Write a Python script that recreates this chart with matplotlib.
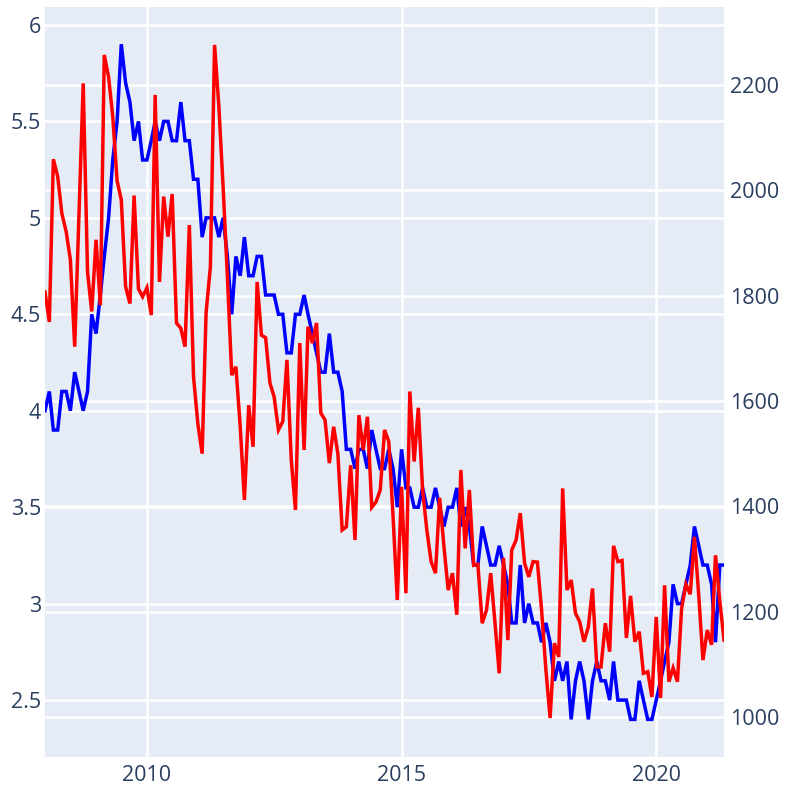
import matplotlib
matplotlib.use("Agg")
import matplotlib.pyplot as plt
import pandas as pd

# ---- data (monthly, Jan 2008 .. May 2021) ----
start_month = "2008-01-01"

blue_values = [
    4.0, 4.1, 3.9, 3.9, 4.1, 4.1, 4.0, 4.2, 4.1, 4.0, 4.1, 4.5,   # 2008
    4.4, 4.6, 4.8, 5.0, 5.3, 5.5, 5.9, 5.7, 5.6, 5.4, 5.5, 5.3,   # 2009
    5.3, 5.4, 5.5, 5.4, 5.5, 5.5, 5.4, 5.4, 5.6, 5.4, 5.4, 5.2,   # 2010
    5.2, 4.9, 5.0, 5.0, 5.0, 4.9, 5.0, 4.8, 4.5, 4.8, 4.7, 4.9,   # 2011
    4.7, 4.7, 4.8, 4.8, 4.6, 4.6, 4.6, 4.5, 4.5, 4.3, 4.3, 4.5,   # 2012
    4.5, 4.6, 4.5, 4.4, 4.3, 4.2, 4.2, 4.4, 4.2, 4.2, 4.1, 3.8,   # 2013
    3.8, 3.7, 3.8, 3.8, 3.7, 3.9, 3.8, 3.7, 3.7, 3.8, 3.7, 3.5,   # 2014
    3.8, 3.6, 3.6, 3.5, 3.5, 3.6, 3.5, 3.5, 3.6, 3.5, 3.4, 3.5,   # 2015
    3.5, 3.6, 3.4, 3.5, 3.4, 3.2, 3.2, 3.4, 3.3, 3.2, 3.2, 3.3,   # 2016
    3.2, 3.1, 2.9, 2.9, 3.2, 2.9, 3.0, 2.9, 2.9, 2.8, 2.9, 2.8,   # 2017
    2.6, 2.7, 2.6, 2.7, 2.4, 2.6, 2.7, 2.6, 2.4, 2.6, 2.7, 2.6,   # 2018
    2.6, 2.5, 2.7, 2.5, 2.5, 2.5, 2.4, 2.4, 2.6, 2.5, 2.4, 2.4,   # 2019
    2.5, 2.6, 2.7, 2.8, 3.1, 3.0, 3.0, 3.1, 3.2, 3.4, 3.3, 3.2,   # 2020
    3.2, 3.1, 2.8, 3.2, 3.2,                                      # 2021
]

red_values = [
    1807, 1750, 2059, 2026, 1956, 1921, 1868, 1703, 1960, 2203, 1845, 1770,   # 2008
    1906, 1782, 2257, 2215, 2140, 2018, 1982, 1817, 1785, 1990, 1813, 1798,   # 2009
    1815, 1763, 2181, 1826, 1988, 1912, 1993, 1748, 1738, 1703, 1934, 1646,   # 2010
    1557, 1500, 1767, 1855, 2276, 2158, 2007, 1836, 1649, 1665, 1551, 1412,   # 2011
    1592, 1513, 1826, 1725, 1720, 1634, 1608, 1545, 1561, 1678, 1488, 1393,   # 2012
    1710, 1507, 1741, 1710, 1748, 1577, 1564, 1482, 1551, 1500, 1355, 1361,   # 2013
    1478, 1336, 1573, 1507, 1570, 1398, 1408, 1431, 1545, 1523, 1380, 1222,   # 2014
    1437, 1235, 1618, 1485, 1587, 1430, 1355, 1295, 1273, 1416, 1323, 1241,   # 2015
    1273, 1194, 1469, 1320, 1431, 1288, 1290, 1178, 1203, 1273, 1178, 1083,   # 2016
    1302, 1146, 1317, 1336, 1387, 1292, 1266, 1295, 1294, 1203, 1089, 998,    # 2017
    1140, 1114, 1434, 1241, 1260, 1197, 1181, 1143, 1171, 1244, 1095, 1095,   # 2018
    1178, 1124, 1325, 1295, 1297, 1150, 1230, 1143, 1162, 1083, 1086, 1038,   # 2019
    1190, 1036, 1250, 1067, 1093, 1067, 1206, 1252, 1233, 1342, 1230, 1108,   # 2020
    1165, 1137, 1307, 1220, 1146,                                             # 2021
]

x_tick_years = ["2010", "2015", "2020"]
left_ticks = [2.5, 3, 3.5, 4, 4.5, 5, 5.5, 6]
left_tick_labels = ["2.5", "3", "3.5", "4", "4.5", "5", "5.5", "6"]
right_ticks = [1000, 1200, 1400, 1600, 1800, 2000, 2200]
right_tick_labels = ["1000", "1200", "1400", "1600", "1800", "2000", "2200"]

dates = pd.date_range(start_month, periods=len(blue_values), freq="MS")

# ---- styling ----
plt.rcParams["font.family"] = ["Open Sans", "DejaVu Sans"]
BG = "#E5ECF6"
TXT = "#2a3f5f"
FS = 15.5
GRID_LW = 1.8
LINE_LW = 2.5

W, H = 785, 787
fig = plt.figure(figsize=(W / 100, H / 100), dpi=100)
fig.patch.set_facecolor("white")

left_px, right_px, top_px, bottom_px = 45, 724, 7, 757
ax = fig.add_axes([left_px / W, 1 - bottom_px / H,
                   (right_px - left_px) / W, (bottom_px - top_px) / H])
ax.set_facecolor(BG)
ax2 = ax.twinx()
ax2.patch.set_visible(False)

ax.set_xlim(dates[0], dates[-1])
ax.set_ylim(2.205, 6.093)
ax2.set_ylim(924, 2348)

ax.set_xticks([pd.Timestamp(y + "-01-01") for y in x_tick_years])
ax.set_xticklabels(x_tick_years)
ax.set_yticks(left_ticks)
ax.set_yticklabels(left_tick_labels)
ax2.set_yticks(right_ticks)
ax2.set_yticklabels(right_tick_labels)

# grid: left-axis + x grid on ax; right-axis grid also drawn on ax (below lines)
ax.grid(True, color="white", lw=GRID_LW, zorder=0)
ax.set_axisbelow(True)
for v in right_ticks:
    frac = ax2.transLimits.transform((0, v))[1]
    ax.plot([0, 1], [frac, frac], transform=ax.transAxes, color="white",
            lw=GRID_LW, zorder=1, solid_capstyle="butt")

ax.plot(dates, blue_values, color="blue", lw=LINE_LW, solid_joinstyle="miter", zorder=3)
ax2.plot(dates, red_values, color="red", lw=LINE_LW, solid_joinstyle="miter", zorder=3)

for a in (ax, ax2):
    for s in a.spines.values():
        s.set_visible(False)
    a.tick_params(length=0, labelsize=FS, labelcolor=TXT)

ax.tick_params(axis="x", pad=6)
ax.tick_params(axis="y", pad=3)
ax2.tick_params(axis="y", pad=4)

fig.savefig("out.png", dpi=100, facecolor="white")
